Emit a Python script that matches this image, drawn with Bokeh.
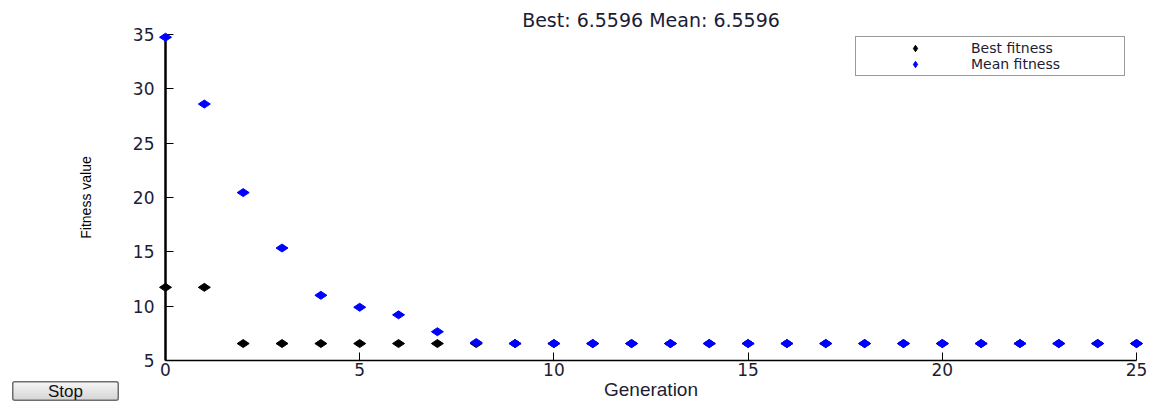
import math

from bokeh.embed import file_html
from bokeh.layouts import column
from bokeh.models import Div, FixedTicker, Legend, LegendItem
from bokeh.plotting import figure
from bokeh.resources import INLINE

# Genetic algorithm run: fitness per generation
generation = [0, 1, 2, 3, 4, 5, 6, 7, 8, 9, 10, 11, 12,
              13, 14, 15, 16, 17, 18, 19, 20, 21, 22, 23, 24, 25]
best_fitness = [11.73, 11.73, 6.5596, 6.5596, 6.5596, 6.5596, 6.5596, 6.5596,
                6.5596, 6.5596, 6.5596, 6.5596, 6.5596, 6.5596, 6.5596, 6.5596,
                6.5596, 6.5596, 6.5596, 6.5596, 6.5596, 6.5596, 6.5596, 6.5596,
                6.5596, 6.5596]
mean_fitness = [34.75, 28.6, 20.45, 15.35, 11.0, 9.9, 9.2, 7.65,
                6.65, 6.5596, 6.5596, 6.5596, 6.5596, 6.5596, 6.5596, 6.5596,
                6.5596, 6.5596, 6.5596, 6.5596, 6.5596, 6.5596, 6.5596, 6.5596,
                6.5596, 6.5596]
x_ticks = [0, 5, 10, 15, 20, 25]
y_ticks = [5, 10, 15, 20, 25, 30, 35]

FONT = "DejaVu Sans"
TEXT = "#1c1c34"

p = figure(width=1158, height=402, x_range=(0, 25), y_range=(5, 35),
           output_backend="svg", toolbar_location=None,
           min_border_left=165, min_border_right=22,
           min_border_top=34, min_border_bottom=38)
p.outline_line_color = None
p.xgrid.visible = False
p.ygrid.visible = False
p.background_fill_color = "white"
p.border_fill_color = "white"

p.title.text = f"Best: {best_fitness[-1]:.4f} Mean: {mean_fitness[-1]:.4f}"
p.title.align = "center"
p.title.text_font = FONT
p.title.text_font_size = "19px"
p.title.text_font_style = "normal"
p.title.text_color = TEXT
p.title.standoff = 8

p.xaxis.ticker = FixedTicker(ticks=x_ticks)
p.yaxis.ticker = FixedTicker(ticks=y_ticks)
for ax in (p.xaxis[0], p.yaxis[0]):
    ax.major_tick_in = 8
    ax.major_tick_out = 0
    ax.minor_tick_in = 0
    ax.minor_tick_out = 0
    ax.major_tick_line_color = "black"
    ax.axis_line_color = "black"
    ax.major_label_text_font = FONT
    ax.major_label_text_font_size = "17px"
    ax.major_label_text_color = TEXT
    ax.axis_label_text_font_style = "normal"
p.yaxis.axis_line_width = 2.5
p.xaxis.axis_line_width = 1.5
p.yaxis.major_label_standoff = 11
p.xaxis.major_label_standoff = 2

p.xaxis.axis_label = "Generation"
p.xaxis.axis_label_text_font = "Liberation Sans"
p.xaxis.axis_label_text_font_size = "19px"
p.xaxis.axis_label_text_color = TEXT
p.xaxis.axis_label_standoff = 0

p.yaxis.axis_label = "Fitness value"
p.yaxis.axis_label_text_font = "Liberation Sans"
p.yaxis.axis_label_text_font_size = "14px"
p.yaxis.axis_label_text_color = "black"
p.yaxis.axis_label_standoff = 36

best_r = p.scatter(generation, best_fitness, marker="diamond", angle=math.pi / 2,
                   size=12, color="black", level="overlay")
mean_r = p.scatter(generation, mean_fitness, marker="diamond", angle=math.pi / 2,
                   size=12, color="#0000ff", level="overlay")

legend = Legend(items=[LegendItem(label="Best fitness", renderers=[best_r]),
                       LegendItem(label="Mean fitness", renderers=[mean_r])],
                location=(690, 284), margin=0, padding=3, spacing=0,
                glyph_width=112, glyph_height=16, label_standoff=0,
                label_width=150, label_height=16,
                label_text_font=FONT, label_text_font_size="14px",
                label_text_color=TEXT,
                border_line_color="#333333", border_line_width=1.8,
                background_fill_color="white", background_fill_alpha=1.0)
p.add_layout(legend)

# Stop button of the GA window, pulled up over the lower-left corner
stop_svg = (
    '<svg xmlns="http://www.w3.org/2000/svg" width="107" height="20" '
    'style="display:block">'
    '<defs><linearGradient id="btnfill" x1="0" y1="0" x2="0" y2="1">'
    '<stop offset="0" stop-color="#f6f6f6"/>'
    '<stop offset="1" stop-color="#d4d4d4"/></linearGradient></defs>'
    '<rect x="0.75" y="0.75" width="105.5" height="18.5" rx="2" '
    'fill="url(#btnfill)" stroke="#6e6e6e" stroke-width="1.5"/>'
    '<text x="53.5" y="15.5" text-anchor="middle" font-family="DejaVu Sans" '
    'font-size="17" fill="#111111">Stop</text></svg>'
)
stop_btn = Div(text=stop_svg, width=107, height=20,
               styles={"margin-top": "-21px", "margin-left": "12px"})

root = column(p, stop_btn, spacing=0)
open("out.html", "w").write(file_html(root, INLINE))
